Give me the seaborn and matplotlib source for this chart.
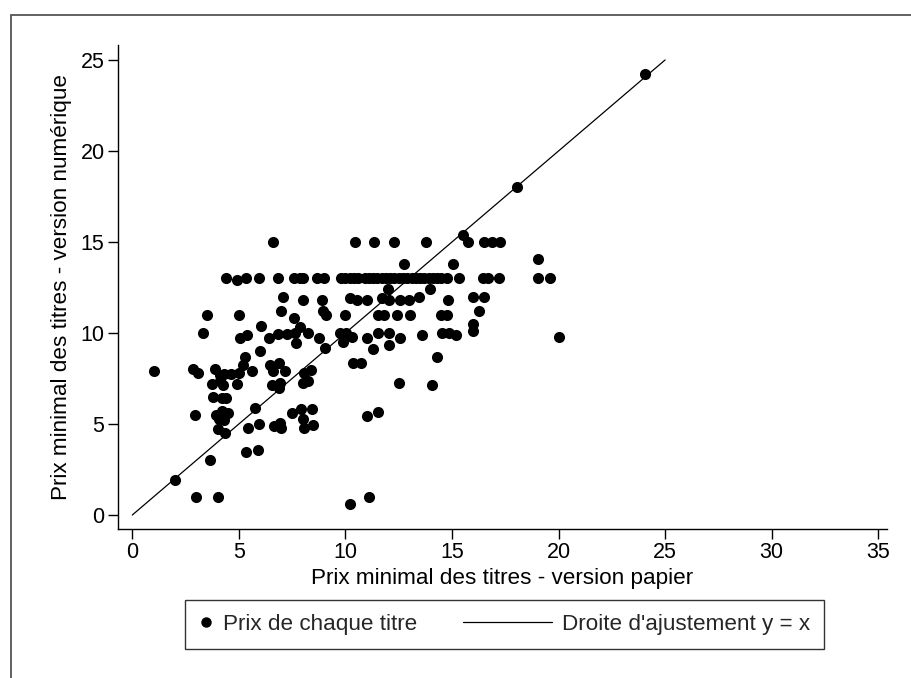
import matplotlib
matplotlib.use("Agg")
import matplotlib.pyplot as plt
from matplotlib.lines import Line2D
from matplotlib.legend_handler import HandlerLine2D
from matplotlib.patches import Rectangle
import seaborn as sns
import pandas as pd

# ---- data: (paper price, digital price) per title ----
prix_papier = [
    1.0, 2.0, 3.0, 4.0, 3.65, 5.35, 5.9,
    2.85, 3.1, 3.9, 4.1, 4.3, 4.65, 5.0, 5.6, 5.2, 5.3, 6.0,
    3.75, 4.1, 4.25, 4.9, 3.8, 4.2, 4.4,
    2.95, 3.95, 4.2, 4.5, 4.05, 4.3, 4.0, 4.35, 5.75, 5.45, 5.95,
    6.65, 7.0, 6.95, 6.45, 6.9, 6.6, 7.15, 6.55, 6.9, 6.95, 7.7,
    8.05, 8.4, 8.0, 8.25, 7.5, 7.9, 8.45, 8.0, 8.05, 8.5,
    3.3, 3.5, 5.0, 5.05, 5.4, 6.05, 6.4, 6.85, 7.25, 7.65, 7.85, 8.25, 8.75, 9.05,
    7.05, 8.0, 8.9, 7.0, 7.6, 8.95, 9.1, 6.6,
    4.4, 4.9, 5.35, 5.95, 6.85, 7.6, 7.85, 8.0, 8.65, 9.0,
    9.8, 10.0, 10.2, 10.4, 10.6, 10.9, 11.1, 11.3, 11.5, 11.7, 11.9, 12.1, 12.3,
    12.5, 12.7, 12.9, 13.1, 13.3, 13.5, 13.7, 13.9, 14.1, 14.3, 14.5, 14.75,
    15.35, 16.45, 16.7, 17.2, 19.05, 19.6,
    10.45, 11.35, 12.3, 13.8, 15.75, 16.5, 16.9, 17.25, 15.5,
    12.75, 15.05, 19.05, 12.0, 13.95,
    10.2, 10.55, 11.0, 11.7, 12.05, 12.55, 13.0, 13.45, 14.8, 16.0, 16.5,
    10.0, 11.55, 11.8, 12.4, 13.05, 14.5, 14.75, 16.25, 16.0, 16.0,
    9.75, 10.05, 9.9, 10.3, 11.0, 11.55, 12.05, 12.55, 13.6, 14.55, 14.85, 15.2, 20.0,
    11.3, 12.05, 14.3, 10.35, 10.75, 12.5, 14.05, 11.0, 11.55, 10.2, 11.1,
    18.05, 24.05,
]
prix_numerique = [
    7.9, 1.9, 1.0, 1.0, 3.0, 3.45, 3.55,
    8.0, 7.8, 8.0, 7.7, 7.75, 7.75, 7.8, 7.9, 8.25, 8.7, 9.0,
    7.2, 7.35, 7.15, 7.2, 6.5, 6.45, 6.45,
    5.5, 5.5, 5.7, 5.6, 5.25, 5.2, 4.7, 4.5, 5.9, 4.8, 5.0,
    4.9, 4.8, 5.05, 8.25, 8.35, 7.9, 7.9, 7.15, 6.95, 7.25, 9.45,
    7.8, 7.95, 7.25, 7.35, 5.6, 5.85, 5.85, 5.25, 4.8, 4.95,
    10.0, 11.0, 11.0, 9.7, 9.9, 10.4, 9.75, 9.95, 9.95, 10.0, 10.35, 10.0, 9.75, 9.15,
    12.0, 11.8, 11.8, 11.2, 10.85, 11.2, 11.0, 15.0,
    13.0, 12.9, 13.0, 13.0, 13.0, 13.0, 13.0, 13.0, 13.0, 13.0,
    13.0, 13.0, 13.0, 13.0, 13.0, 13.0, 13.0, 13.0, 13.0, 13.0, 13.0, 13.0, 13.0,
    13.0, 13.0, 13.0, 13.0, 13.0, 13.0, 13.0, 13.0, 13.0, 13.0, 13.0, 13.0,
    13.0, 13.0, 13.0, 13.0, 13.0, 13.0,
    15.0, 15.0, 15.0, 15.0, 15.0, 15.0, 15.0, 15.0, 15.4,
    13.8, 13.8, 14.05, 12.4, 12.4,
    11.9, 11.8, 11.8, 11.9, 11.8, 11.8, 11.8, 11.95, 11.8, 11.95, 11.95,
    11.0, 11.0, 11.0, 11.0, 11.0, 11.0, 11.0, 11.2, 10.5, 10.1,
    10.0, 10.0, 9.5, 9.8, 9.75, 10.0, 10.0, 9.75, 9.9, 10.0, 10.0, 9.9, 9.8,
    9.1, 9.35, 8.7, 8.35, 8.35, 7.25, 7.15, 5.45, 5.65, 0.6, 1.0,
    18.0, 24.2,
]
droite_x = [0, 25]
droite_y = [0, 25]

x_ticks = [0, 5, 10, 15, 20, 25, 30, 35]
y_ticks = [0, 5, 10, 15, 20, 25]
label_points = "Prix de chaque titre"
label_line = "Droite d'ajustement y = x"
x_title = "Prix minimal des titres - version papier"
y_title = "Prix minimal des titres - version numérique"

df = pd.DataFrame({"papier": prix_papier, "numerique": prix_numerique})
df_line = pd.DataFrame({"x": droite_x, "y": droite_y})

sns.set_theme(style="white")
plt.rcParams["font.family"] = ["Liberation Sans", "DejaVu Sans"]

W, H = 912, 678
FS_TICK = 15.5
FS_LAB = 16.2
fig = plt.figure(figsize=(W / 100, H / 100), dpi=100)
fig.patch.set_facecolor("white")
ax = fig.add_axes([117.7 / W, 1 - 529.3 / H, (887 - 117.7) / W, (529.3 - 45) / H])

sns.scatterplot(data=df, x="papier", y="numerique", ax=ax, color="black",
                s=64, edgecolor="black", linewidth=0, legend=False)
sns.lineplot(data=df_line, x="x", y="y", ax=ax, color="black", linewidth=0.9,
             legend=False)

ax.set_xlim(-0.685, 35.41)
ax.set_ylim(-0.785, 25.82)
ax.set_xticks(x_ticks)
ax.set_yticks(y_ticks)
ax.tick_params(axis="both", direction="out", length=7, width=1, color="black",
               labelsize=FS_TICK, pad=2.5, bottom=True, left=True, labelcolor="black")
for side in ["top", "right"]:
    ax.spines[side].set_visible(False)
for side in ["left", "bottom"]:
    ax.spines[side].set_color("black")
    ax.spines[side].set_linewidth(1.0)
ax.set_xlabel(x_title, fontsize=FS_LAB, color="black", labelpad=3)
ax.set_ylabel(y_title, fontsize=FS_LAB, color="black", labelpad=6)
ax.grid(False)
ax.set_facecolor("white")


class LongLineHandler(HandlerLine2D):
    def create_artists(self, legend, orig_handle, xdescent, ydescent, width, height,
                       fontsize, trans):
        extra = 3.35 * fontsize
        ymid = height / 2.0 - ydescent
        ln = Line2D([-xdescent - extra, -xdescent + width], [ymid, ymid],
                    color="black", linewidth=0.9)
        ln.set_transform(trans)
        return [ln]


h_pts = Line2D([], [], linestyle="none", marker="o", markersize=6.5,
               markerfacecolor="black", markeredgecolor="black")
h_line = Line2D([], [], color="black", linewidth=0.9)
leg = fig.legend([h_pts, h_line], [label_points, label_line],
                 handler_map={h_line: LongLineHandler()},
                 loc="center", bbox_to_anchor=(504.5 / W, 1 - 624.5 / H),
                 ncol=2, fontsize=FS_LAB, frameon=True, fancybox=False,
                 edgecolor="black", handlelength=0.6, handletextpad=0.45,
                 columnspacing=5.4, borderpad=0.62, borderaxespad=0)
leg.get_frame().set_linewidth(1.0)

# outer graph-region frame
fig.add_artist(Rectangle((11 / W, -0.05), 1.2, (1 - 15 / H) + 0.05,
                         transform=fig.transFigure, fill=False,
                         edgecolor="#555555", linewidth=1.3))

fig.savefig("out.png", dpi=100, facecolor="white")
